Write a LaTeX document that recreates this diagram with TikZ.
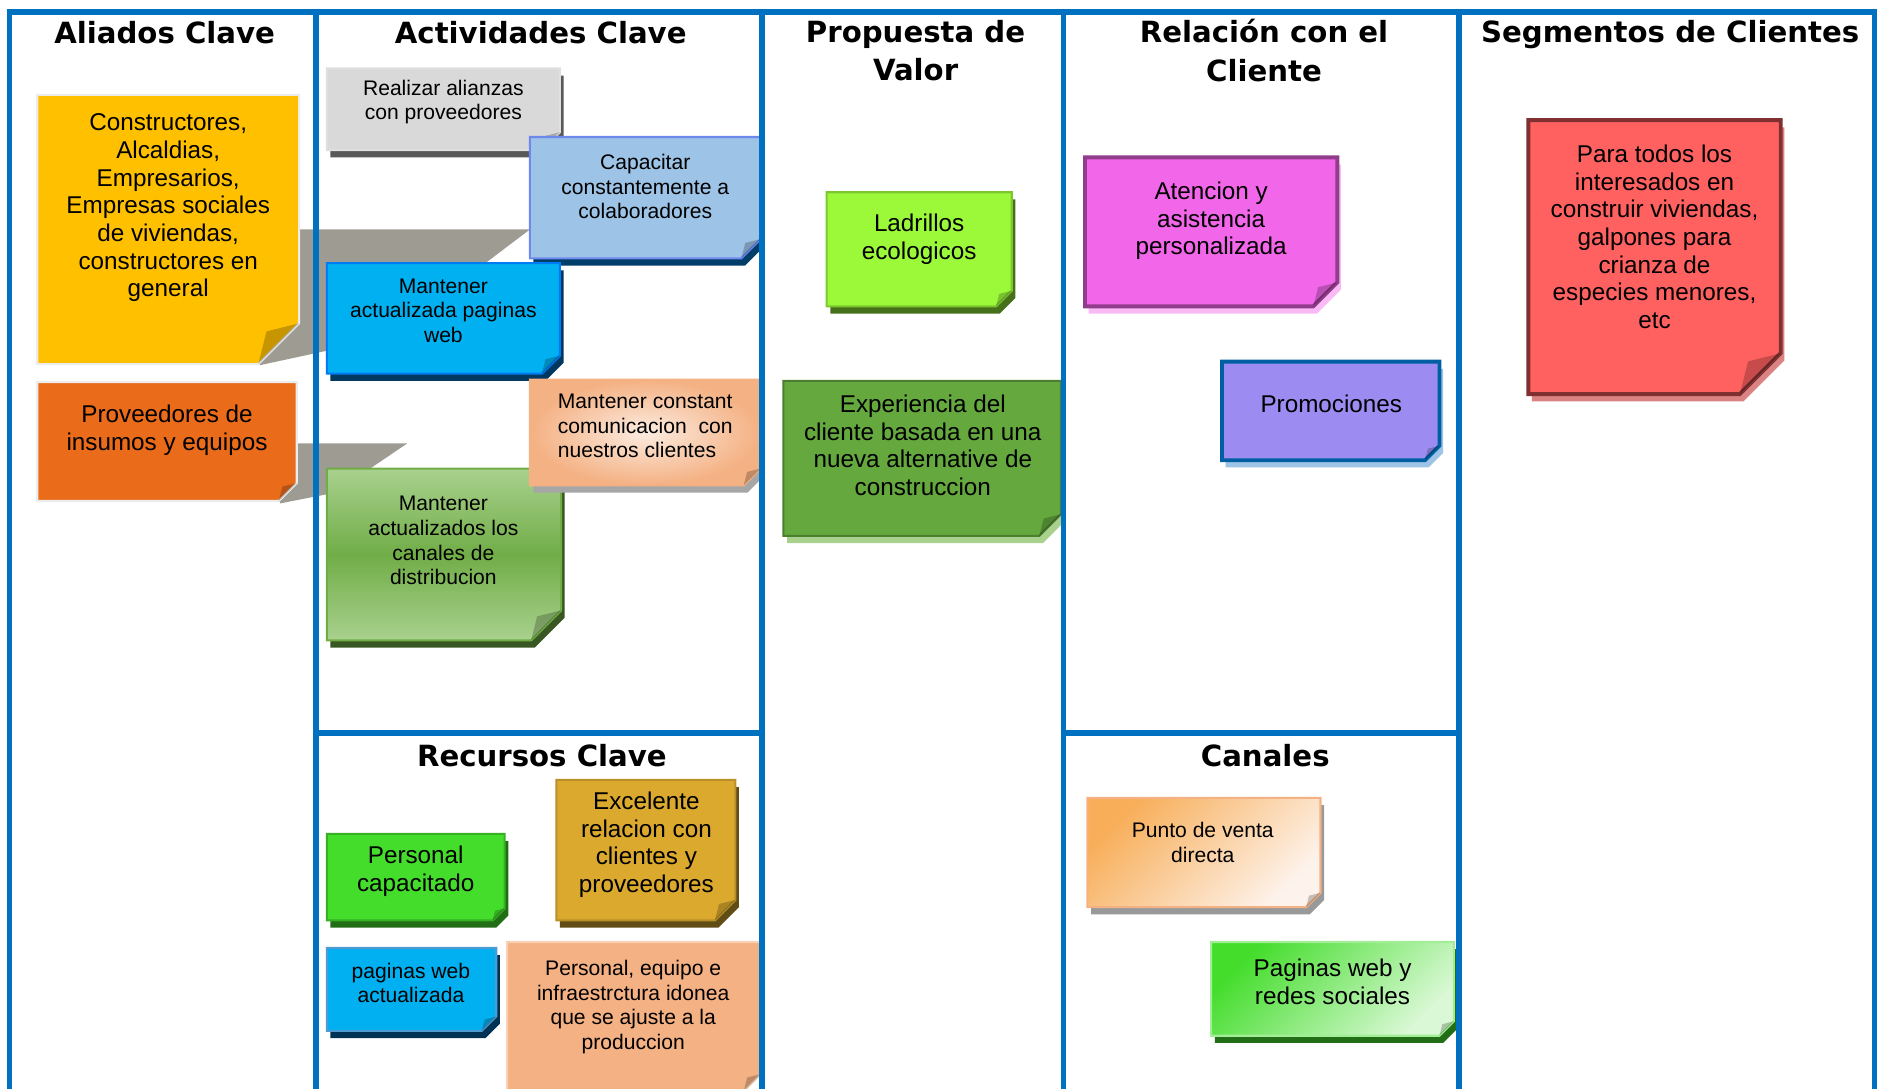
\documentclass[tikz,border=0pt]{standalone}
\usepackage{fontspec}
\setmainfont{Liberation Sans}
\newfontfamily\fuentetitulo{DejaVu Sans}

\definecolor{azulmarco}{HTML}{0070C0}
\definecolor{grissombra}{HTML}{9E9B93}
\definecolor{amarillo}{HTML}{FFC000}
\definecolor{naranja}{HTML}{EA6B1A}
\definecolor{grisnota}{HTML}{D9D9D9}
\definecolor{azulclaro}{HTML}{9DC3E6}
\definecolor{cian}{HTML}{00B0F0}
\definecolor{durazno}{HTML}{F4B183}
\definecolor{verdeclaro}{HTML}{A9D18E}
\definecolor{verdemedio}{HTML}{70AD47}
\definecolor{verdevivo}{HTML}{44DD2C}
\definecolor{dorado}{HTML}{DAA92E}
\definecolor{lima}{HTML}{9BF93A}
\definecolor{verdeoscuro}{HTML}{64A83E}
\definecolor{magenta}{HTML}{F266E9}
\definecolor{lavanda}{HTML}{9C8CF2}
\definecolor{rojo}{HTML}{FF6161}

%nota: estilo, sombra, x1, y1, x2, y2, doblez
\newcommand{\nota}[7]{%
  \path[#2] (#3+3,#4+6) -- (#5+3,#4+6) -- (#5+3,#6+6-#7) -- (#5+3-#7,#6+6) -- (#3+3,#6+6) -- cycle;
  \draw[#1] (#3,#4) -- (#5,#4) -- (#5,#6-#7) -- (#5-#7,#6) -- (#3,#6) -- cycle;
  \fill[doblez] (#5,#6-#7) -- (#5-0.8*#7,#6-0.8*#7) -- (#5-#7,#6) -- cycle;
}

\begin{document}
\begin{tikzpicture}[x=0.012015cm, y=-0.012015cm,
  marco/.style={draw=azulmarco, line width=1.6pt},
  titulo/.style={font=\fuentetitulo\bfseries\fontsize{8.3}{10.9}\selectfont, align=center, inner sep=0},
  texto/.style={font=\fontsize{6.9}{7.86}\selectfont, align=center, inner sep=0},
  textochico/.style={font=\fontsize{6}{7}\selectfont, align=center, inner sep=0},
  doblez/.style={fill=black, fill opacity=0.22},
  line width=0.6pt]
\useasboundingbox (0,0) rectangle (1568,906);
\clip (0,0) rectangle (1568,906);

%Sombras
\fill[grissombra] (230,191) -- (441,191) -- (400,222) -- (420,260) -- (216,304) -- cycle;
\fill[grissombra] (230,369) -- (339,369) -- (305,392) -- (330,400) -- (233,419) -- cycle;

%Aliados
\nota{fill=amarillo, draw=white!85!gray}{fill=none}{31}{79}{249}{303}{34}
\node[texto] (constructores) at (140,173) {Constructores,\\Alcaldias,\\Empresarios,\\Empresas sociales\\de viviendas,\\constructores en\\general};
\nota{fill=naranja, draw=white!85!gray}{fill=none}{31}{318}{247}{417}{15}
\node[texto] (proveedores) at (139,358) {Proveedores de\\insumos y equipos};

%Actividades
\nota{fill=grisnota, draw=white!75!gray}{fill=black!65}{272}{57}{466}{125}{15}
\node[textochico] (alianzas) at (369,85) {Realizar alianzas\\con proveedores};
\nota{fill=azulclaro, draw=azulclaro!70!blue}{fill=azulmarco!55!black}{441}{114}{633}{215}{16}
\node[textochico] (capacitar) at (537,155.5) {Capacitar\\constantemente a\\colaboradores};
\nota{fill=cian, draw=cian!70!blue}{fill=azulmarco!50!black}{272}{219}{466}{311}{15}
\node[textochico] (web) at (369,258.5) {Mantener\\actualizada paginas\\web};
\nota{top color=verdeclaro, bottom color=verdeclaro, middle color=verdemedio, draw=verdemedio}{fill=verdemedio!50!black}{272}{390}{467}{533}{25}
\node[textochico] (distribucion) at (369,450) {Mantener\\actualizados los\\canales de\\distribucion};
\nota{inner color=durazno!25, outer color=durazno, draw=durazno}{fill=black!35}{441}{316}{633}{404}{14}
\node[textochico, align=left] (comunicacion) at (537,354.5) {Mantener constant\\comunicacion~ con\\nuestros clientes};

%Recursos
\nota{fill=verdevivo, draw=verdevivo!80!black}{fill=verdevivo!50!black}{272}{694}{420}{766}{10}
\node[texto] (personal) at (346,725) {Personal\\capacitado};
\nota{fill=dorado, draw=dorado!85!black}{fill=dorado!45!black}{463}{649}{612}{766}{17}
\node[texto] (excelente) at (538,703) {Excelente\\relacion con\\clientes y\\proveedores};
\nota{fill=cian, draw=azulmarco!70}{fill=azulmarco!45!black}{272}{789}{413}{858}{12}
\node[textochico] (paginas) at (342,818) {paginas web\\actualizada};
\nota{fill=durazno, draw=durazno!60}{fill=none}{422}{784}{633}{908}{14}
\node[textochico] (equipo) at (527,838) {Personal, equipo e\\infraestrctura idonea\\que se ajuste a la\\produccion};

%Propuesta
\nota{fill=lima, draw=lima!80!black}{fill=lima!45!black}{688}{160}{842}{255}{13}
\node[texto] (ladrillos) at (765,199) {Ladrillos\\ecologicos};
\nota{fill=verdeoscuro, draw=verdeoscuro!75!black}{fill=verdeclaro}{652}{317}{883}{446}{18}
\node[texto] (experiencia) at (768,370.5) {Experiencia del\\cliente basada en una\\nueva alternative de\\construccion};

%Relacion
\nota{fill=magenta, draw=magenta!50!black!80!magenta, line width=1.1pt}{fill=magenta!45}{903}{131}{1113}{255}{20}
\node[texto] (atencion) at (1008,184) {Atencion y\\asistencia\\personalizada};
\nota{fill=lavanda, draw=azulmarco!85!black, line width=1.1pt}{fill=azulclaro}{1017}{301}{1198}{383}{12}
\node[texto] (promociones) at (1108,336) {Promociones};

%Canales
\nota{top color=durazno!75!orange!90!yellow, bottom color=durazno!15, shading angle=45, draw=durazno}{fill=black!40}{905}{664}{1099}{755}{12}
\node[textochico] (punto) at (1001,701) {Punto de venta\\directa};
\nota{top color=verdevivo, bottom color=verdevivo!20, shading angle=45, draw=verdevivo!50}{fill=verdevivo!50!black}{1008}{784}{1210}{862}{12}
\node[texto] (redes) at (1109,817) {Paginas web y\\redes sociales};

%Segmentos
\nota{fill=rojo, draw=rojo!50!black, line width=1.1pt}{fill=rojo!80!black!70}{1272}{100}{1482}{328}{34}
\node[texto] (interesados) at (1377,197) {Para todos los\\interesados en\\construir viviendas,\\galpones para\\crianza de\\especies menores,\\etc};

%Titulos
\node[titulo] (aliados) at (137,27) {Aliados Clave};
\node[titulo] (actividades) at (450,27) {Actividades Clave};
\node[titulo] (propuesta) at (762,42) {Propuesta de\\Valor};
\node[titulo] (relacion) at (1052,42) {Relación con el\\Cliente};
\node[titulo] (segmentos) at (1390,29) {Segmentos de Clientes};
\node[titulo] (recursos) at (451,629) {Recursos Clave};
\node[titulo] (canales) at (1053,629) {Canales};

%Marco
\draw[marco] (8,910) -- (8,10) -- (1560,10) -- (1560,910);
\draw[marco] (263,10) -- (263,910);
\draw[marco] (634,10) -- (634,910);
\draw[marco] (885,10) -- (885,910);
\draw[marco] (1214,10) -- (1214,910);
\draw[marco] (263,610) -- (634,610);
\draw[marco] (885,610) -- (1214,610);
\end{tikzpicture}
\end{document}
